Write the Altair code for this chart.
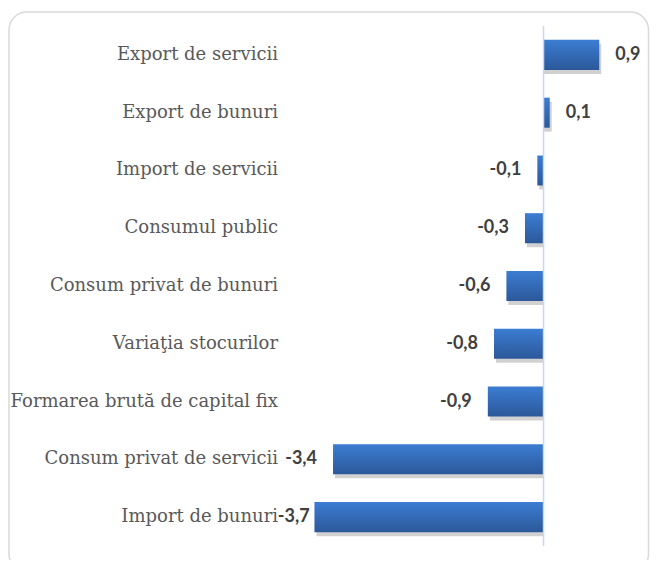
import altair as alt
import pandas as pd

categories = [
    "Export de servicii",
    "Export de bunuri",
    "Import de servicii",
    "Consumul public",
    "Consum privat de bunuri",
    "Variaţia stocurilor",
    "Formarea brută de capital fix",
    "Consum privat de servicii",
    "Import de bunuri",
]
values = [0.9, 0.1, -0.1, -0.3, -0.6, -0.8, -0.9, -3.4, -3.7]

df = pd.DataFrame({"cat": categories, "v": values})

W, H = 356, 520
xscale = alt.Scale(domain=[-4.2, 1.55], nice=False, zero=False)
yscale = alt.Scale(domain=categories, paddingInner=0.48, paddingOuter=0.24)

yaxis = alt.Axis(
    domain=False,
    ticks=False,
    grid=False,
    labelFont="DejaVu Serif",
    labelFontSize=18,
    labelColor="#595959",
    labelPadding=6,
    labelLimit=400,
    zindex=1,
)
yenc = alt.Y("cat:N", scale=yscale, sort=categories, title=None, axis=yaxis)

base = alt.Chart(df)

border = alt.Chart(pd.DataFrame({"a": [0]})).mark_rect(
    fillOpacity=0, stroke="#d9d9d9", strokeWidth=1.5, cornerRadius=18
).encode(
    x=alt.value(-274.5), x2=alt.value(365), y=alt.value(-14), y2=alt.value(546)
)

shadow = base.mark_bar(color="#000000", opacity=0.18, xOffset=2, yOffset=4).encode(
    x=alt.X("v:Q", scale=xscale, axis=None),
    x2=alt.datum(0),
    y=yenc,
)

grad = {
    "gradient": "linear",
    "x1": 0, "y1": 0, "x2": 0, "y2": 1,
    "stops": [
        {"offset": 0, "color": "#3b7dd3"},
        {"offset": 1, "color": "#2c5899"},
    ],
}

bars = base.mark_bar(color=grad).encode(
    x=alt.X("v:Q", scale=xscale, axis=None),
    x2=alt.datum(0),
    y=yenc,
)

zero = alt.Chart(pd.DataFrame({"z": [0]})).mark_rule(
    color="#c6d9f0", strokeWidth=1.5
).encode(x=alt.X("z:Q", scale=xscale, axis=None))

lab = base.transform_calculate(
    lbl="(datum.v < 0 ? '-' : '') + replace(format(abs(datum.v), '.1f'), '.', ',')",
    lx="max(datum.v, -3.52)",
)

pos_text = lab.transform_filter("datum.v > 0").mark_text(
    align="left", baseline="middle", dx=16, font="Lato",
    fontWeight="bold", fontSize=18, color="#404040"
).encode(
    x=alt.X("lx:Q", scale=xscale, axis=None),
    y=yenc,
    text="lbl:N",
)

neg_text = lab.transform_filter("datum.v < 0").mark_text(
    align="right", baseline="middle", dx=-16, font="Lato",
    fontWeight="bold", fontSize=18, color="#404040"
).encode(
    x=alt.X("lx:Q", scale=xscale, axis=None),
    y=yenc,
    text="lbl:N",
)

chart = alt.layer(border, shadow, bars, zero, pos_text, neg_text).properties(
    width=W,
    height=H,
    padding={"left": 275.5, "top": 18, "right": 10, "bottom": 14},
    autosize=alt.AutoSizeParams(type="none"),
    background="white",
).configure_view(stroke=None)

chart.save("out.html", embed_options={"renderer": "svg", "actions": False})
